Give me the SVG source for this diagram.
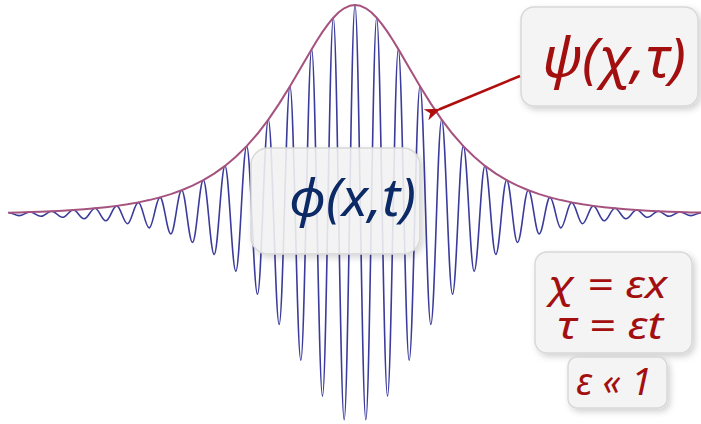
<svg xmlns="http://www.w3.org/2000/svg" width="701" height="424" viewBox="0 0 701 424">
<defs>
<style>
.box{fill:#f4f4f4;stroke:#d8d8d8;stroke-width:1.5;filter:url(#sh)}
.red{fill:#a30f0f;font-family:"Noto Sans","DejaVu Sans",sans-serif;font-style:italic}
.blue{fill:#0c2a66;font-family:"Noto Sans","DejaVu Sans",sans-serif;font-style:italic}
.wave{fill:none;stroke:#3b3b9b;stroke-width:1.6;stroke-linejoin:round}
.env{fill:none;stroke:#a5527f;stroke-width:2;stroke-linejoin:round}
</style>
<filter id="sh" x="-10%" y="-10%" width="125%" height="130%">
<feDropShadow dx="2.5" dy="3" stdDeviation="3" flood-color="#000" flood-opacity="0.18"/>
</filter>
<marker id="ah" viewBox="0 0 16 12" refX="2" refY="6" markerWidth="16" markerHeight="12" markerUnits="userSpaceOnUse" orient="auto-start-reverse">
<path d="M0 6 L16 0 L11.5 6 L16 12 Z" fill="#b00d0d"/>
</marker>
</defs>
<rect width="701" height="424" fill="#ffffff"/>
<g id="curves">
<path class="wave" d="M8.33 212.64 C12.27 212.64 15.23 215.62 19.17 215.62 S26.06 212.06 30 212.06 S36.89 216.32 40.83 216.32 S47.73 211.22 51.67 211.22 S58.56 217.32 62.5 217.32 S69.39 210.03 73.33 210.03 S80.23 218.75 84.17 218.75 S91.06 208.31 95 208.31 S101.89 220.8 105.83 220.8 S112.73 205.87 116.67 205.87 S123.56 223.72 127.5 223.72 S134.39 202.37 138.33 202.37 S145.23 227.9 149.17 227.9 S156.06 197.38 160 197.38 S166.89 233.87 170.83 233.87 S177.73 190.26 181.67 190.26 S188.56 242.36 192.5 242.36 S199.39 180.15 203.33 180.15 S210.23 254.38 214.17 254.38 S221.06 165.9 225 165.9 S231.89 271.2 235.83 271.2 S242.73 146.14 246.67 146.14 S253.56 294.23 257.5 294.23 S264.39 119.6 268.33 119.6 S275.23 324.35 279.17 324.35 S286.06 86.16 290 86.16 S296.89 360.33 300.83 360.33 S307.73 49.13 311.67 49.13 S318.56 396.09 322.5 396.09 S329.39 17.72 333.33 17.72 S340.23 419.69 344.17 419.69 S351.06 5 355 5 S361.89 419.69 365.83 419.69 S372.73 17.72 376.67 17.72 S383.56 396.09 387.5 396.09 S394.39 49.13 398.33 49.13 S405.23 360.33 409.17 360.33 S416.06 86.16 420 86.16 S426.89 324.35 430.83 324.35 S437.73 119.6 441.67 119.6 S448.56 294.23 452.5 294.23 S459.39 146.14 463.33 146.14 S470.23 271.2 474.17 271.2 S481.06 165.9 485 165.9 S491.89 254.38 495.83 254.38 S502.73 180.15 506.67 180.15 S513.56 242.36 517.5 242.36 S524.39 190.26 528.33 190.26 S535.23 233.87 539.17 233.87 S546.06 197.38 550 197.38 S556.89 227.9 560.83 227.9 S567.73 202.37 571.67 202.37 S578.56 223.72 582.5 223.72 S589.39 205.87 593.33 205.87 S600.23 220.8 604.17 220.8 S611.06 208.31 615 208.31 S621.89 218.75 625.83 218.75 S632.73 210.03 636.67 210.03 S643.56 217.32 647.5 217.32 S654.39 211.22 658.33 211.22 S665.23 216.32 669.17 216.32 S676.06 212.06 680 212.06 S686.89 215.62 690.83 215.62 S697.73 212.64 701.67 212.64"/>
<polyline class="env" points="8.33,212.64 19.17,212.38 30,212.06 40.83,211.68 51.67,211.22 62.5,210.68 73.33,210.03 84.17,209.25 95,208.31 105.83,207.2 116.67,205.87 127.5,204.28 138.33,202.37 149.17,200.1 160,197.38 170.83,194.13 181.67,190.26 192.5,185.64 203.33,180.15 214.17,173.62 225,165.9 235.83,156.8 246.67,146.14 257.5,133.77 268.33,119.6 279.17,103.65 290,86.16 300.83,67.67 311.67,49.13 317.08,40.25 322.5,31.91 327.92,24.32 333.33,17.72 338.75,12.32 344.17,8.31 349.58,5.83 355,5 360.42,5.83 365.83,8.31 371.25,12.32 376.67,17.72 382.08,24.32 387.5,31.91 392.92,40.25 398.33,49.13 409.17,67.67 420,86.16 430.83,103.65 441.67,119.6 452.5,133.77 463.33,146.14 474.17,156.8 485,165.9 495.83,173.62 506.67,180.15 517.5,185.64 528.33,190.26 539.17,194.13 550,197.38 560.83,200.1 571.67,202.37 582.5,204.28 593.33,205.87 604.17,207.2 615,208.31 625.83,209.25 636.67,210.03 647.5,210.68 658.33,211.22 669.17,211.68 680,212.06 690.83,212.38 701.67,212.64"/>
</g>
<g id="node-phi">
<rect class="box" x="251" y="148" width="169" height="106" rx="17" fill-opacity="0.88"/>
<text class="blue" x="289" y="216" font-size="52" textLength="127" lengthAdjust="spacingAndGlyphs">ϕ(x,t)</text>
</g>
<g id="node-psi">
<rect class="box" x="521" y="7" width="177" height="99" rx="13"/>
<text class="red" x="542" y="77" font-size="54" textLength="144" lengthAdjust="spacingAndGlyphs">ψ(χ,τ)</text>
</g>
<g id="node-eq">
<rect class="box" x="535" y="252" width="157" height="101" rx="12"/>
<text class="red" x="548" y="298" font-size="38" textLength="119" lengthAdjust="spacingAndGlyphs">χ = εx</text>
<text class="red" x="557" y="339" font-size="38" textLength="106" lengthAdjust="spacingAndGlyphs">τ = εt</text>
</g>
<g id="node-eps">
<rect class="box" x="568" y="357" width="99" height="51" rx="9"/>
<text class="red" x="576" y="395" font-size="38" textLength="76" lengthAdjust="spacing">ε«1</text>
</g>
<g id="connectors">
<line x1="520" y1="76" x2="439" y2="109.5" stroke="#b00d0d" stroke-width="2.6" marker-end="url(#ah)"/>
</g>
</svg>
